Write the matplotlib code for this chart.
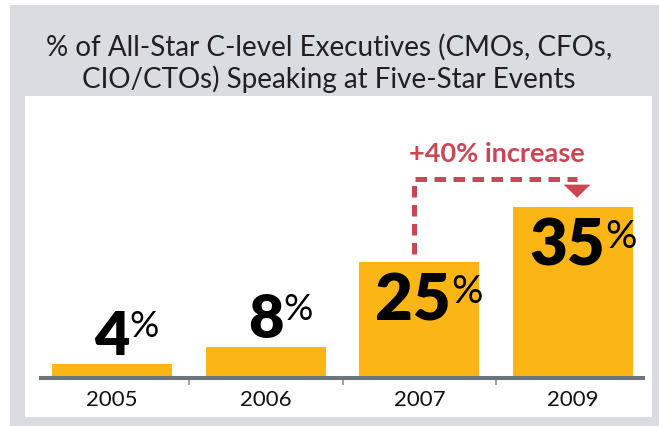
import matplotlib
matplotlib.use('Agg')
import matplotlib.pyplot as plt
from matplotlib.patches import Rectangle
import numpy as np

# data
years = ['2005', '2006', '2007', '2009']
pct = [4, 8, 25, 35]
label_sizes = [44, 44, 47, 47]
label_inside = [False, False, True, True]
title = '% of All-Star C-level Executives (CMOs, CFOs,\nCIO/CTOs) Speaking at Five-Star Events'
callout = '+40% increase'
callout_from = 2   # 2007
callout_to = 3     # 2009

bar_color = '#fbb615'
red = '#cd4656'
axis_gray = '#6b767b'

W, H = 659, 427
fig = plt.figure(figsize=(W / 100, H / 100), dpi=100)
fig.patch.set_facecolor('white')

# gray frame + white panel (behind the axes)
fig.patches.append(Rectangle((10 / W, 0), 1, 1 - 6 / H, transform=fig.transFigure,
                             facecolor='#d9dce0', edgecolor='none', zorder=-2))
fig.patches.append(Rectangle((25 / W, 9 / H), (652 - 25) / W, (418 - 97) / H,
                             transform=fig.transFigure, facecolor='white',
                             edgecolor='none', zorder=-1))

fig.text(329 / W, 1 - 63 / H, title, ha='center', va='center', fontsize=20,
         family='Lato', color='#231f20', linespacing=1.2)

ax = fig.add_axes([41 / W, 1 - 379 / H, (643 - 41) / W, (379 - 97) / H])
ax.set_facecolor('none')

# the original infographic stretches taller bars a bit -> power scale
p = 1.15
ax.set_yscale('function', functions=(lambda v: np.sign(v) * np.abs(v) ** p,
                                     lambda v: np.sign(v) * np.abs(v) ** (1 / p)))

x = np.arange(len(years))
ax.bar(x, pct, width=0.78, color=bar_color, zorder=2)
ax.set_xlim(-0.462, 3.455)
ax.set_ylim(0, 54)

for s in ['top', 'left', 'right']:
    ax.spines[s].set_visible(False)
ax.spines['bottom'].set_color(axis_gray)
ax.spines['bottom'].set_linewidth(2.9)
ax.spines['bottom'].set_zorder(3)
ax.set_yticks([])
ax.set_xticks(x)
ax.set_xticklabels(years, fontsize=16, family='Lato', color='#111111')
ax.tick_params(axis='x', length=0, pad=8)
ax.set_xticks(x[:-1] + 0.5, minor=True)
ax.tick_params(axis='x', which='minor', length=5, width=1.2, color='#8a9297')

# value labels: big bold number, larger thin % raised at its top right
for i, v in enumerate(pct):
    if label_inside[i]:
        off, va = -7, 'top'
    else:
        off, va = 0, 'bottom'
    num = ax.annotate(str(v), xy=(i - (0.04 if v >= 10 else 0), v), xytext=(0, off),
                      textcoords='offset points', ha='center', va=va,
                      fontsize=label_sizes[i], family='Lato', fontweight='heavy',
                      color='black', zorder=4)
    ax.annotate('%', xy=(1, 1), xycoords=num, xytext=(0, -1),
                textcoords='offset points', ha='left', va='top',
                fontsize=label_sizes[i] * 0.6, family='Lato', color='black', zorder=4)

# callout: dashed elbow from 2007 to 2009 with arrowhead
x0 = callout_from - 0.035
x1 = callout_to + 0.026
level = 39.8
ax.plot([x0, x0, x1], [26.5, level, level], color=red, lw=3.6,
        dashes=(2.3, 1.5), solid_capstyle='butt', dash_capstyle='butt', zorder=3)
ax.fill([x1 - 0.088, x1 + 0.088, x1], [38.9, 38.9, 36.6], color=red,
        lw=0, zorder=3)
ax.text((x0 + x1) / 2 + 0.01, 44.3, callout, ha='center', va='center',
        fontsize=19.5, family='Lato', fontweight='bold', color=red)

plt.savefig('out.png', dpi=100)
